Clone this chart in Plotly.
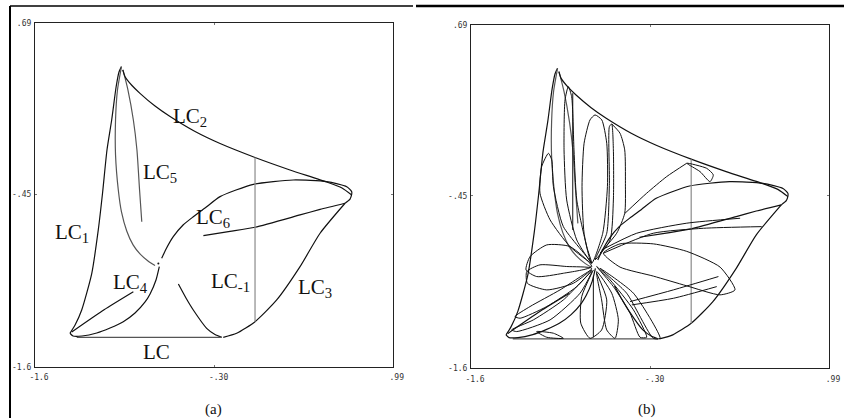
import plotly.graph_objects as go

# ---------------------------------------------------------------
# Critical curves LC_i of the map, (x, y) in phase-plane units
# ---------------------------------------------------------------
LC1_X = [-1.347, -1.310, -1.262, -1.189, -1.142, -1.111, -1.079, -1.045, -1.013, -0.992, -0.974]
LC1_Y = [-1.377, -1.322, -1.222, -0.977, -0.688, -0.442, -0.155, 0.045, 0.265, 0.365, 0.401]

INNER_X = [-0.974, -1.003, -1.017, -1.017, -0.997, -0.974, -0.936, -0.890, -0.840, -0.782, -0.731]
INNER_Y = [0.401, 0.245, 0.045, -0.188, -0.422, -0.568, -0.695, -0.788, -0.848, -0.895, -0.925]

LC5_X = [-0.963, -0.927, -0.888, -0.862, -0.843, -0.827]
LC5_Y = [0.379, 0.245, 0.045, -0.155, -0.422, -0.633]

LC2_X = [-0.965, -0.948, -0.898, -0.840, -0.731, -0.622, -0.441, -0.260, -0.007, 0.246, 0.512, 0.623, 0.693]
LC2_Y = [0.379, 0.334, 0.275, 0.223, 0.138, 0.068, -0.032, -0.112, -0.205, -0.288, -0.368, -0.408, -0.455]

S_X = [-0.683, -0.651, -0.599, -0.528, -0.454, -0.369, -0.260, -0.019, 0.270, 0.512, 0.657, 0.693, 0.692, 0.681, 0.645]
S_Y = [-0.877, -0.815, -0.733, -0.655, -0.600, -0.542, -0.466, -0.384, -0.355, -0.366, -0.400, -0.433, -0.455, -0.482, -0.510]

LC6_X = [0.645, 0.464, 0.319, -0.007, -0.188, -0.381]
LC6_Y = [-0.510, -0.551, -0.588, -0.670, -0.698, -0.726]

LC3_X = [0.645, 0.464, 0.319, 0.150, -0.007, -0.140, -0.237]
LC3_Y = [-0.510, -0.710, -0.933, -1.155, -1.300, -1.377, -1.404]

LCM1_X = [-0.562, -0.507, -0.454, -0.357, -0.297, -0.248]
LCM1_Y = [-1.049, -1.142, -1.222, -1.344, -1.385, -1.404]

LC0_X = [-1.298, -0.248]
LC0_Y = [-1.404, -1.404]

LC4_LOW_X = [-0.700, -0.724, -0.767, -0.803, -0.876, -0.961, -1.057, -1.153, -1.260, -1.325, -1.347]
LC4_LOW_Y = [-0.933, -1.022, -1.115, -1.168, -1.242, -1.300, -1.342, -1.375, -1.395, -1.395, -1.377]

LC4_UP_X = [-1.334, -1.100, -0.888]
LC4_UP_Y = [-1.368, -1.220, -1.100]

# vertical segment of LC_-1
VERT_X = [-0.007, -0.007]
VERT_Y = [-0.205, -1.300]

# higher-rank critical arcs drawn in panel (b)
UP_1 = ([-0.727, -0.835, -0.908, -0.927, -0.920, -0.896, -0.872, -0.855, -0.835, -0.763, -0.727],
        [-0.899, -0.744, -0.477, -0.143, 0.190, 0.279, 0.212, -0.143, -0.477, -0.788, -0.899])
UP_LINE = ([-0.864, -0.864], [0.235, -0.677])
UP_2 = ([-0.727, -0.782, -0.797, -0.782, -0.739, -0.703, -0.654, -0.618, -0.613, -0.647, -0.727],
        [-0.899, -0.699, -0.388, -0.099, 0.057, 0.090, 0.057, -0.099, -0.388, -0.699, -0.899])
UP_3 = ([-0.703, -0.618, -0.599, -0.599, -0.582, -0.570, -0.570, -0.594, -0.703],
        [-0.877, -0.699, -0.366, 0.012, 0.030, -0.143, -0.477, -0.744, -0.877])
UP_4 = ([-0.582, -0.522, -0.488, -0.483, -0.488, -0.546, -0.667],
        [0.030, -0.032, -0.143, -0.366, -0.566, -0.699, -0.832])
LEFT_1 = ([-0.727, -0.884, -1.028, -1.101, -1.089, -1.040, -1.016, -1.004, -0.932, -0.727],
          [-0.899, -0.788, -0.610, -0.432, -0.255, -0.166, -0.210, -0.388, -0.655, -0.899])
LEFT_2 = ([-0.727, -0.884, -1.052, -1.173, -1.202, -1.125, -0.932, -0.727],
          [-0.921, -0.788, -0.777, -0.855, -0.944, -0.988, -0.966, -0.921])
LEFT_3 = ([-0.727, -0.908, -1.101, -1.197, -1.192, -1.052, -0.860, -0.727],
          [-0.933, -0.921, -0.910, -0.955, -1.033, -1.077, -1.033, -0.933])
LOWL_1 = ([-0.727, -0.956, -1.173, -1.282, -1.245, -1.052, -0.835, -0.727],
          [-0.944, -1.077, -1.188, -1.255, -1.266, -1.188, -1.055, -0.944])
LOWL_2 = ([-0.727, -0.932, -1.149, -1.306, -1.270, -1.028, -0.811, -0.727],
          [-0.955, -1.144, -1.277, -1.344, -1.355, -1.277, -1.099, -0.955])
LOWL_3 = ([-1.125, -1.004, -0.932, -1.052, -1.125],
          [-1.355, -1.366, -1.400, -1.393, -1.355])
BOT_1 = ([-0.715, -0.799, -0.806, -0.739, -0.655, -0.618, -0.691],
         [-0.944, -1.121, -1.299, -1.400, -1.344, -1.144, -0.966])
BOT_2 = ([-0.691, -0.582, -0.534, -0.558, -0.618, -0.655, -0.691],
         [-0.955, -1.099, -1.277, -1.400, -1.344, -1.144, -0.955])
BOT_LINE = ([-0.715, -0.715], [-0.988, -1.393])
LOWR_1 = ([-0.691, -0.570, -0.449, -0.377, -0.329, -0.425, -0.594, -0.691],
          [-0.921, -1.055, -1.233, -1.393, -1.393, -1.210, -1.010, -0.921])
LOWR_2 = ([-0.667, -0.474, -0.281, -0.232, -0.425, -0.667],
          [-0.933, -1.099, -1.400, -1.400, -1.099, -0.933])
RIGHT_1 = ([-0.642, -0.522, -0.281, -0.039, 0.202, 0.310, 0.202, -0.039, -0.281, -0.522, -0.642],
           [-0.832, -0.770, -0.770, -0.820, -0.925, -1.077, -1.110, -1.050, -0.985, -0.925, -0.832])
RIGHT_2 = ([-0.654, -0.401, -0.039, 0.347], [-0.810, -0.699, -0.632, -0.599])
RIGHT_3 = ([-0.642, -0.281, 0.081, 0.503], [-0.832, -0.699, -0.666, -0.655])
RIGHT_4 = ([-0.449, -0.136, 0.190], [-1.155, -1.077, -0.988])
RIGHT_5 = ([-0.437, -0.136, 0.178], [-1.177, -1.133, -1.055])
ARC_UR = ([-0.486, -0.329, -0.184, -0.039], [-0.566, -0.432, -0.321, -0.232])
LOOP_UR = ([-0.039, 0.057, 0.129, 0.153, 0.105, -0.039],
           [-0.232, -0.288, -0.355, -0.310, -0.266, -0.232])

# curve labels of panel (a): text, x, y
LABEL_TEXT = ["LC<sub>2</sub>", "LC<sub>5</sub>", "LC<sub>1</sub>", "LC<sub>6</sub>",
              "LC<sub>4</sub>", "LC<sub>-1</sub>", "LC<sub>3</sub>", "LC"]
LABEL_X = [-0.478, -0.695, -1.334, -0.309, -0.912, -0.188, 0.428, -0.719]
LABEL_Y = [0.067, -0.310, -0.710, -0.610, -1.044, -1.033, -1.077, -1.500]

# axis tick values and their printed labels
X_TICKS = [-1.6, -0.30, 0.99]
X_TICK_TEXT = ["-1.6", "-.30", ".99"]
Y_TICKS = [0.69, -0.45, -1.6]
Y_TICK_TEXT = [".69", "-.45", "-1.6"]

BLACK = "#111111"
GREY = "#8a8a8a"
DARK_GREY = "#555555"

boundary = [
    (LC1_X, LC1_Y, BLACK),
    (INNER_X, INNER_Y, DARK_GREY),
    (LC5_X, LC5_Y, DARK_GREY),
    (LC2_X, LC2_Y, BLACK),
    (S_X, S_Y, BLACK),
    (LC6_X, LC6_Y, BLACK),
    (LC3_X, LC3_Y, BLACK),
    (LCM1_X, LCM1_Y, BLACK),
    (LC0_X, LC0_Y, DARK_GREY),
    (LC4_LOW_X, LC4_LOW_Y, BLACK),
    (LC4_UP_X, LC4_UP_Y, BLACK),
    (VERT_X, VERT_Y, GREY),
]

extras = [UP_1, UP_LINE, UP_2, UP_3, UP_4, LEFT_1, LEFT_2, LEFT_3, LOWL_1, LOWL_2, LOWL_3,
          BOT_1, BOT_2, BOT_LINE, LOWR_1, LOWR_2, RIGHT_1, RIGHT_2, RIGHT_3, RIGHT_4,
          RIGHT_5, ARC_UR, LOOP_UR]

fig = go.Figure()


def add_curve(xs, ys, color, xa, ya, width=1.2):
    fig.add_trace(go.Scatter(
        x=xs, y=ys, mode="lines", xaxis=xa, yaxis=ya,
        line=dict(color=color, width=width, shape="spline", smoothing=0.6),
        hoverinfo="skip", showlegend=False))


# panel (a): labelled critical curves
for xs, ys, col in boundary:
    add_curve(xs, ys, col, "x", "y")

# panel (b): the same curves plus higher-rank critical arcs
for xs, ys, col in boundary:
    add_curve(xs, ys, col, "x2", "y2")
for xs, ys in extras:
    add_curve(xs, ys, BLACK, "x2", "y2", width=1.0)

# centre point
fig.add_trace(go.Scatter(x=[-0.707], y=[-0.911], mode="markers", xaxis="x", yaxis="y",
                         marker=dict(size=2, color=BLACK), hoverinfo="skip", showlegend=False))

tick_font = dict(family="DejaVu Sans Mono", size=8, color="#333333")
axis_common = dict(showgrid=False, zeroline=False, showline=True, linecolor="#222222",
                   linewidth=1.2, mirror="ticks", ticks="inside", ticklen=2,
                   tickcolor="#777777", tickfont=tick_font, fixedrange=True,
                   automargin=False)
x_axis = dict(range=[-1.6, 0.99], tickvals=X_TICKS, ticktext=X_TICK_TEXT,
              tickangle=0, ticklabelstandoff=3, ticklabelshift=4, **axis_common)
y_axis = dict(range=[-1.6, 0.69], tickvals=Y_TICKS, ticktext=Y_TICK_TEXT,
              ticklabelstandoff=1, **axis_common)

fig.update_layout(
    template="none",
    width=844, height=418,
    margin=dict(l=0, r=0, t=0, b=0, autoexpand=False),
    paper_bgcolor="white", plot_bgcolor="white",
    xaxis=dict(domain=[0.0415, 0.4653], anchor="y", **x_axis),
    yaxis=dict(domain=[0.1227, 0.9443], anchor="x", **y_axis),
    xaxis2=dict(domain=[0.5581, 0.9822], anchor="y2", **x_axis),
    yaxis2=dict(domain=[0.1189, 0.9402], anchor="x2", **y_axis),
)

annotations = []
for t, x, y in zip(LABEL_TEXT, LABEL_X, LABEL_Y):
    annotations.append(dict(x=x, y=y, xref="x", yref="y", text=t, showarrow=False,
                            font=dict(family="Liberation Serif", size=21, color="#111111"),
                            xanchor="center", yanchor="middle"))

for t, xp in (("(a)", 213 / 844), ("(b)", 647 / 844)):
    annotations.append(dict(x=xp, y=1 - 409 / 418, xref="paper", yref="paper", text=t,
                            showarrow=False, xanchor="center", yanchor="middle",
                            font=dict(family="Liberation Serif", size=15, color="#111111")))

fig.update_layout(annotations=annotations)

# page frame lines
fig.update_layout(shapes=[
    dict(type="line", xref="paper", yref="paper", x0=10 / 844, x1=10 / 844,
         y0=1 - 6 / 418, y1=0, line=dict(color="black", width=2)),
    dict(type="line", xref="paper", yref="paper", x0=10 / 844, x1=413 / 844,
         y0=1 - 6 / 418, y1=1 - 6 / 418, line=dict(color="black", width=1.3)),
    dict(type="line", xref="paper", yref="paper", x0=416 / 844, x1=1,
         y0=1 - 6 / 418, y1=1 - 6 / 418, line=dict(color="black", width=2.7)),
])

fig.write_html("out.html")
